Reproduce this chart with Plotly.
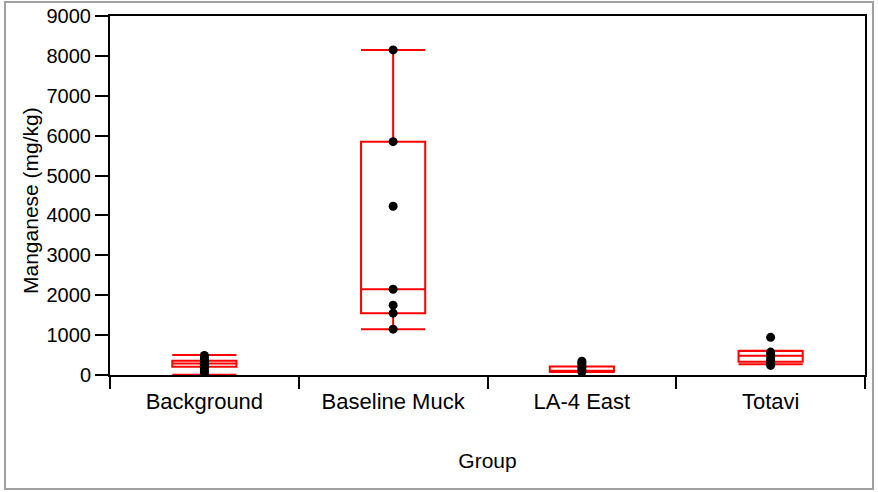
import plotly.graph_objects as go

groups = ["Background", "Baseline Muck", "LA-4 East", "Totavi"]
lower_fence = [5, 1150, 78, 270]
q1_vals = [208, 1550, 82, 330]
median_vals = [290, 2150, 95, 480]
q3_vals = [355, 5850, 210, 600]
upper_fence = [500, 8150, 212, 605]

bg_points = [0, 40, 90, 140, 190, 230, 270, 310, 350, 400, 450, 490]
muck_points = [1150, 1550, 1750, 2150, 4230, 5850, 8150]
la4_points = [75, 130, 190, 250, 300, 345]
totavi_points = [240, 290, 360, 430, 500, 575, 945]

y_ticks = [0, 1000, 2000, 3000, 4000, 5000, 6000, 7000, 8000, 9000]

fig = go.Figure()
fig.add_trace(go.Box(
    x=groups, q1=q1_vals, median=median_vals, q3=q3_vals,
    lowerfence=lower_fence, upperfence=upper_fence,
    line=dict(color="#ff0000", width=2), fillcolor="rgba(255,255,255,0)",
    whiskerwidth=1, width=0.34, boxpoints=False, showlegend=False,
    hoverinfo="skip",
))

pts_x = []
pts_y = []
for g, pts in zip(groups, [bg_points, muck_points, la4_points, totavi_points]):
    pts_x += [g] * len(pts)
    pts_y += pts
fig.add_trace(go.Scatter(
    x=pts_x, y=pts_y, mode="markers",
    marker=dict(color="black", size=9), showlegend=False,
))

L, R, T, B = 110, 13, 16, 117
W, H = 878, 492
pw = W - L - R
ph = H - T - B

def px_x(p):
    return (p - L) / pw

def px_y(p):
    return (H - B - p) / ph

fig.add_shape(type="rect", xref="paper", yref="paper",
              x0=px_x(5), x1=px_x(873), y0=px_y(489), y1=px_y(2),
              line=dict(color="#a0a0a0", width=2), fillcolor="rgba(0,0,0,0)")

fig.add_annotation(text="Manganese (mg/kg)", textangle=-90, showarrow=False,
                   xref="paper", yref="paper", x=px_x(30), y=px_y(201),
                   xanchor="center", yanchor="middle",
                   font=dict(size=21, family="Liberation Sans, Arial, sans-serif", color="black"))

fig.update_layout(
    width=W, height=H,
    margin=dict(l=L, r=R, t=T, b=B, autoexpand=False),
    paper_bgcolor="white", plot_bgcolor="white",
    font=dict(family="Liberation Sans, Arial, sans-serif", size=20, color="black"),
    xaxis=dict(
        type="category", categoryorder="array", categoryarray=groups,
        range=[-0.5, 3.5], automargin=False,
        showline=True, linecolor="black", linewidth=2, mirror=True,
        ticks="outside", tickson="boundaries", ticklen=12, tickwidth=2, tickcolor="black",
        showgrid=False, zeroline=False,
        ticklabelstandoff=6,
        title=dict(text="Group", standoff=40, font=dict(size=21)),
        tickfont=dict(size=22),
    ),
    yaxis=dict(
        range=[0, 9000], tickvals=y_ticks, automargin=False,
        showline=True, linecolor="black", linewidth=2, mirror=True,
        ticks="outside", ticklen=13, tickwidth=2, tickcolor="black",
        showgrid=False, zeroline=False,
        tickfont=dict(size=20),
    ),
)

fig.write_html("out.html")
